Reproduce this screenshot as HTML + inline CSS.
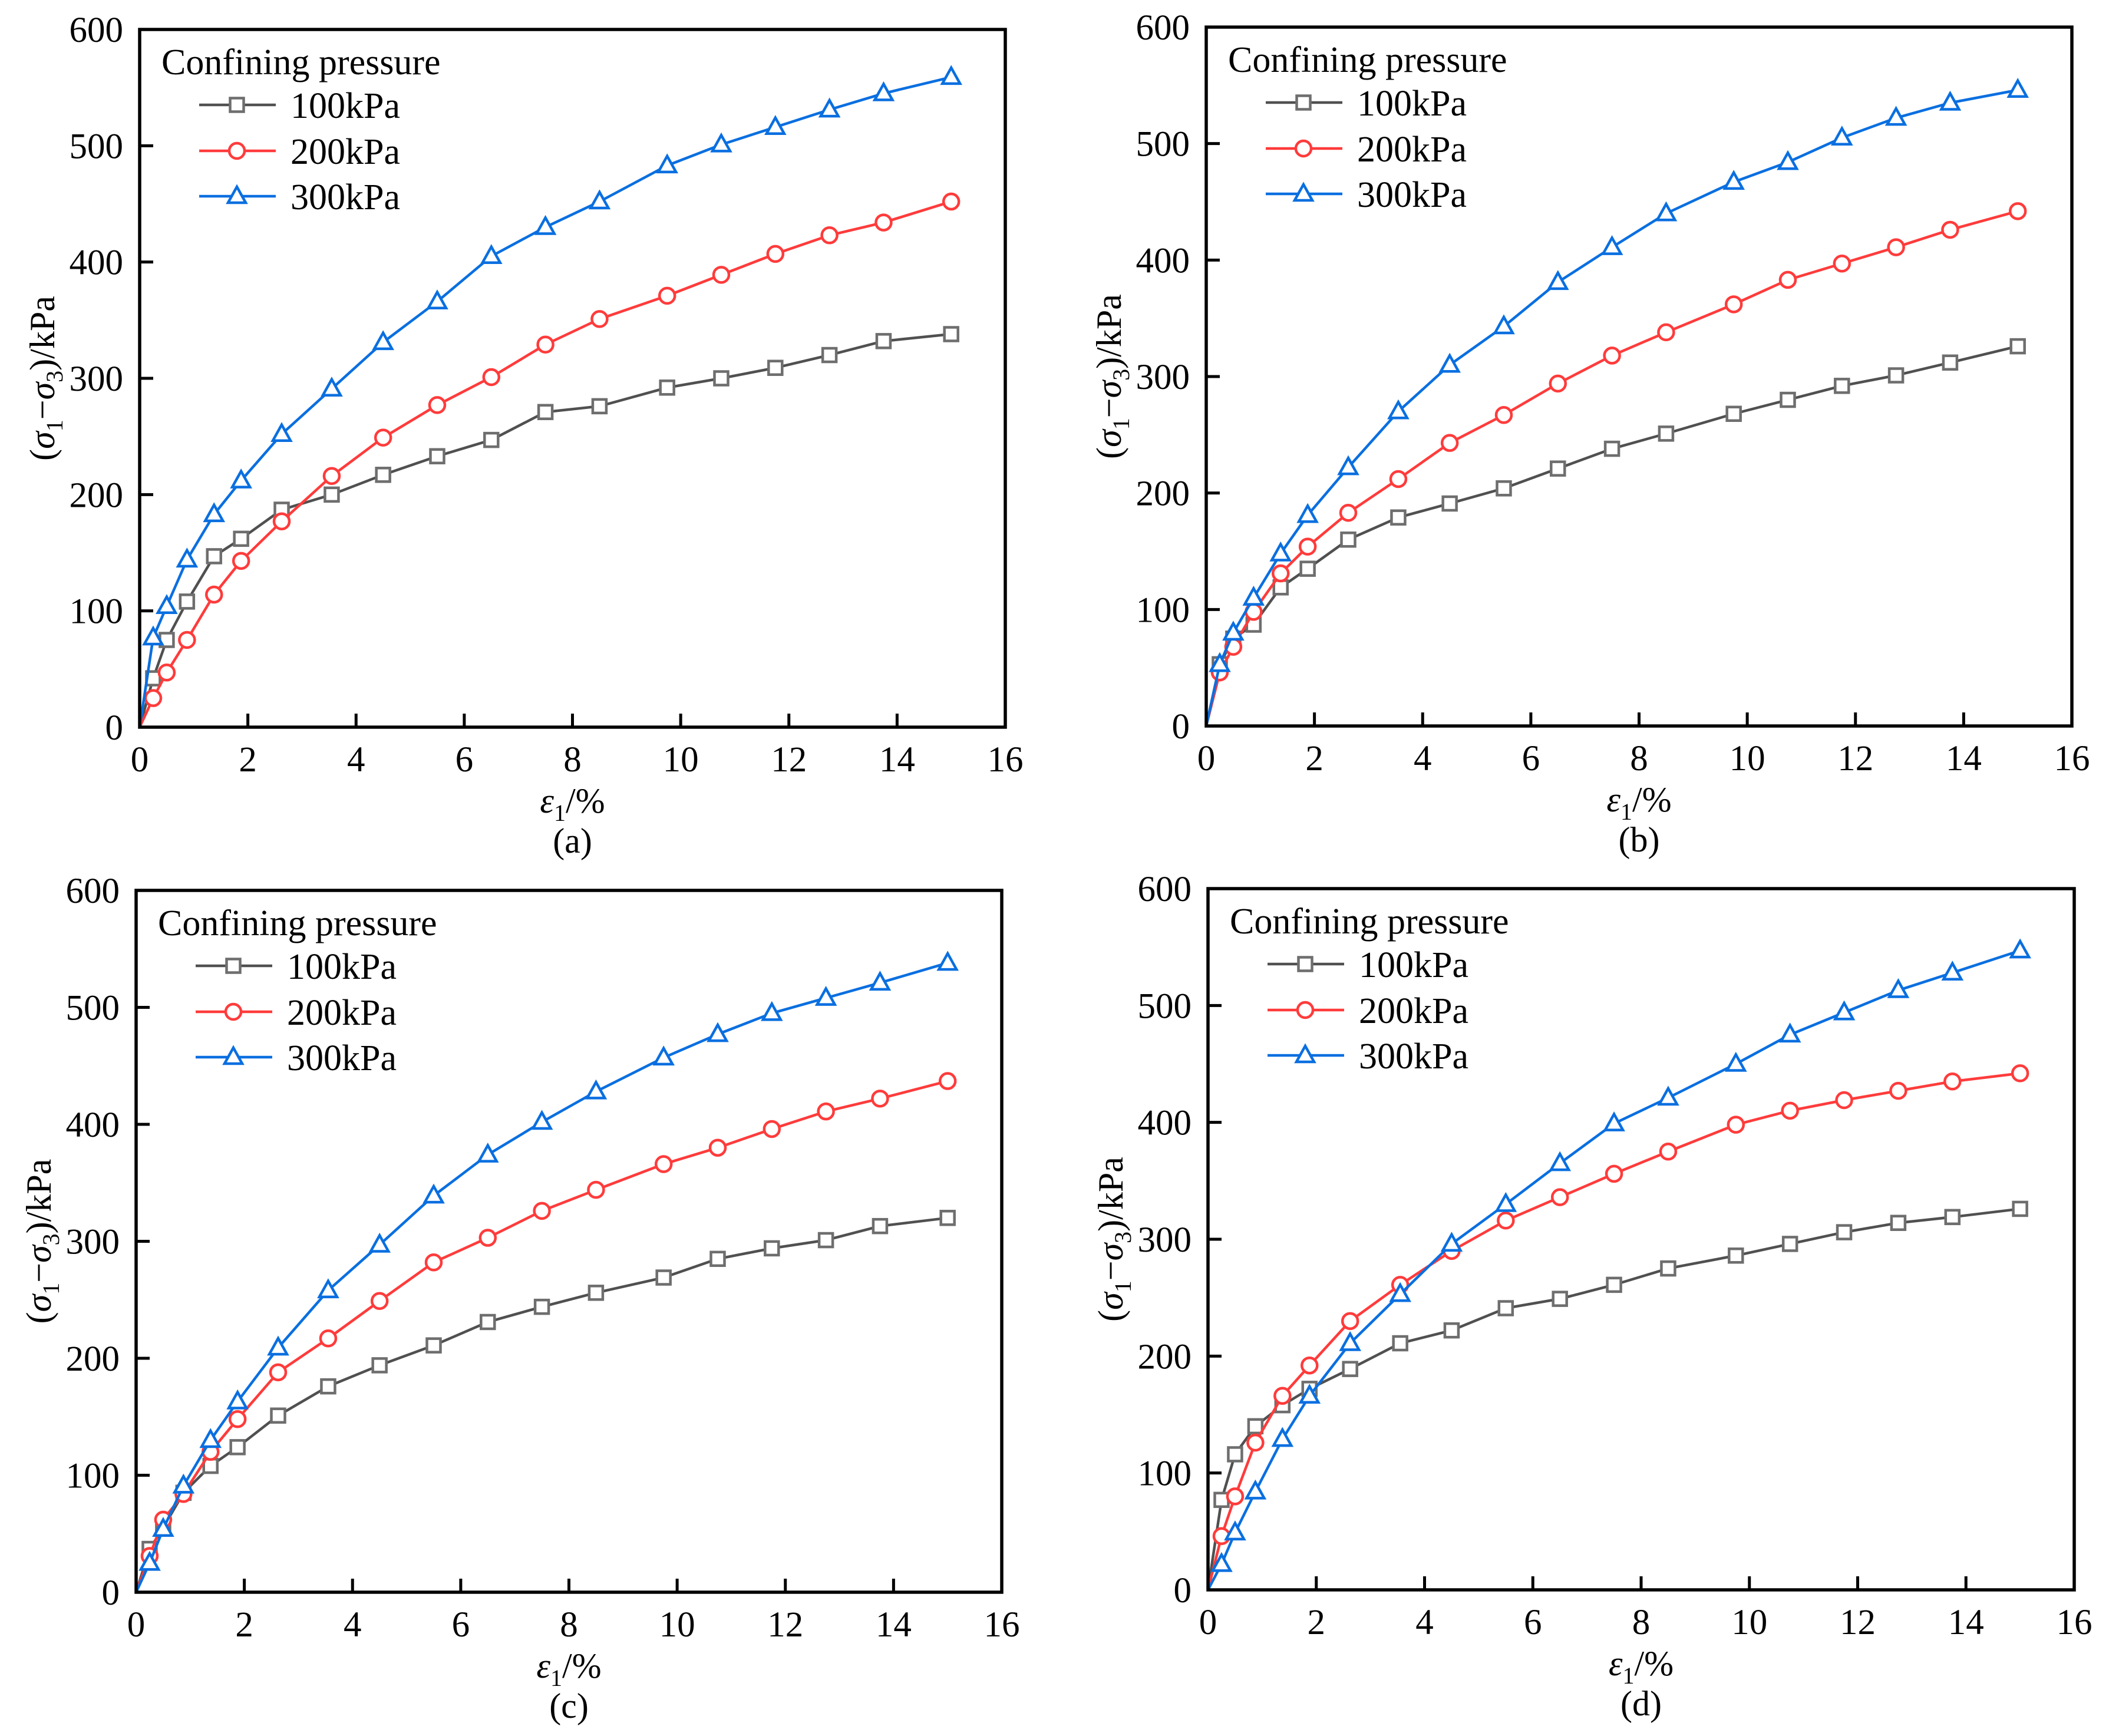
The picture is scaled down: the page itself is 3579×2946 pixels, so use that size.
<!DOCTYPE html>
<html><head><meta charset="utf-8"><style>
html,body{margin:0;padding:0;background:#fff;}
svg{display:block;font-family:"Liberation Serif","Times New Roman",Times,serif;}
svg text{font-family:"Liberation Serif","Times New Roman",Times,serif;}
</style></head><body>
<svg id="fig" width="3579" height="2946" viewBox="0 0 3579 2946" xmlns="http://www.w3.org/2000/svg" font-family="Liberation Serif, serif"></svg>
<script>
const xStrain = [0,0.25,0.5,0.875,1.375,1.875,2.625,3.55,4.5,5.5,6.5,7.5,8.5,9.75,10.75,11.75,12.75,13.75,15];
const seriesNames = ["100kPa","200kPa","300kPa"];
const xTicks = [0,2,4,6,8,10,12,14,16];
const yTicks = [0,100,200,300,400,500,600];
const panelLabels = ["(a)","(b)","(c)","(d)"];
const a100 = [0,42,75,108,147,162,187,200,217,233,247,271,276,292,300,309,320,332,338];
const a200 = [0,25,47,75,114,143,177,216,249,277,301,329,351,371,389,407,423,434,452];
const a300 = [0,77,104,144,183,212,252,291,331,366,405,430,452,483,501,516,531,545,559];
const b100 = [0,53,75,87,119,135,160,179,191,204,221,238,251,268,280,292,301,312,326];
const b200 = [0,46,68,98,131,154,183,212,243,267,294,318,338,362,383,397,411,426,442];
const b300 = [0,53,80,110,148,181,222,270,310,343,381,411,440,467,484,505,522,535,546];
const c100 = [0,37,55,85,108,124,151,176,194,211,231,244,256,269,285,294,301,313,320];
const c200 = [0,31,62,84,120,148,188,217,249,282,303,326,344,366,380,396,411,422,437];
const c300 = [0,25,54,91,130,163,209,258,297,339,374,402,428,457,477,495,508,521,538];
const d100 = [0,77,116,140,158,172,189,211,222,241,249,261,275,286,296,306,314,319,326];
const d200 = [0,46,80,126,166,192,230,261,290,316,336,356,375,398,410,419,427,435,442];
const d300 = [0,22,49,84,129,166,211,253,296,330,365,399,421,450,475,494,513,528,547];
const panelData = [[a100,a200,a300],[b100,b200,b300],[c100,c200,c300],[d100,d200,d300]];

const NS="http://www.w3.org/2000/svg";
const svg=document.getElementById('fig');
const geo=[{l:237,r:1706,t:50,b:1234},{l:2047,r:3516,t:46,b:1232},{l:231,r:1700,t:1511,b:2702},{l:2050,r:3520,t:1508,b:2698}];
const colors=["#6e6e6e","#ff3b3b","#0a6fe0"];
const lineColors=["#505050","#ff3b3b","#0a6fe0"];
function mk(tag,attrs,parent){const e=document.createElementNS(NS,tag);for(const k in attrs)e.setAttribute(k,attrs[k]);(parent||svg).appendChild(e);return e;}
function marker(g,kind,cx,cy,col){
  let m;
  if(kind===0){m=mk('rect',{x:cx-11.5,y:cy-11.5,width:23,height:23,fill:'#fff',stroke:col,'stroke-width':4.5},g);}
  else if(kind===1){m=mk('circle',{cx:cx,cy:cy,r:13,fill:'#fff',stroke:col,'stroke-width':4.5},g);}
  else{m=mk('polygon',{points:`${cx},${cy-16} ${cx-15},${cy+11} ${cx+15},${cy+11}`,fill:'#fff',stroke:col,'stroke-width':4.5},g);}
  return m;
}
panelData.forEach((series,pi)=>{
  const G=geo[pi];
  const xs=v=>G.l+(v-0)/16*(G.r-G.l);
  const ys=v=>G.b-(v-0)/600*(G.b-G.t);
  const g=mk('g',{});
  
  
  series.forEach((vals,si)=>{
    const pts=vals.map((v,i)=>xs(xStrain[i])+','+ys(v)).join(' ');
    const pl=mk('polyline',{points:pts,fill:'none',stroke:lineColors[si],'stroke-width':4.5,'stroke-linejoin':'round'},g);
    
    
    vals.forEach((v,i)=>{
      if(i===0) return;
      const m=marker(g,si,xs(xStrain[i]),ys(v),colors[si]);
      
      
    });
  });
  const box=mk('rect',{x:G.l,y:G.t,width:G.r-G.l,height:G.b-G.t,fill:'none',stroke:'#000','stroke-width':5.5},g);
  
  
  xTicks.forEach(t=>{
    const x=xs(t);
    if(t>0&&t<16){const tk=mk('line',{x1:x,x2:x,y1:G.b,y2:G.b-23,stroke:'#000','stroke-width':5},g);
      
      }
    const tl=mk('text',{x:x,y:G.b+75,'font-size':61,'text-anchor':'middle'},g);tl.textContent=t;
    
    
  });
  yTicks.forEach(t=>{
    const y=ys(t);
    if(t>0&&t<600){const tk=mk('line',{x1:G.l,x2:G.l+23,y1:y,y2:y,stroke:'#000','stroke-width':5},g);
      
      }
    const tl=mk('text',{x:G.l-28,y:y+21,'font-size':61,'text-anchor':'end'},g);tl.textContent=t;
    
    
  });
  const cy=(G.t+G.b)/2, lx=G.l-145;
  const yl=mk('text',{x:0,y:0,'font-size':60,'text-anchor':'middle',transform:`translate(${lx},${cy}) rotate(-90)`},g);
  yl.innerHTML='(<tspan font-style="italic">σ</tspan><tspan font-size="40" dy="14">1</tspan><tspan dy="-14">−</tspan><tspan font-style="italic">σ</tspan><tspan font-size="40" dy="14">3</tspan><tspan dy="-14">)/kPa</tspan>';
  
  
  const cx=(G.l+G.r)/2;
  const xl=mk('text',{x:cx,y:G.b+145,'font-size':60,'text-anchor':'middle'},g);
  xl.innerHTML='<tspan font-style="italic">ε</tspan><tspan font-size="40" dy="14">1</tspan><tspan dy="-14">/%</tspan>';
  
  
  const pl=mk('text',{x:cx,y:G.b+213,'font-size':60,'text-anchor':'middle'},g);pl.textContent=panelLabels[pi];
  
  
  const lg=mk('g',{},g);
  
  
  const h=mk('text',{x:G.l+37,y:G.t+76,'font-size':62},lg);h.textContent='Confining pressure';
  
  
  const rowY=[128,206,283];
  seriesNames.forEach((n,si)=>{
    const y=G.t+rowY[si];
    const ln=mk('line',{x1:G.l+101,x2:G.l+231,y1:y,y2:y,stroke:lineColors[si],'stroke-width':4.5},lg);
    
    
    const m=marker(lg,si,G.l+165,y,colors[si]);
    
    
    const tx=mk('text',{x:G.l+256,y:y+22,'font-size':62},lg);tx.textContent=n;
    
    
  });
});
</script>
</body></html>
